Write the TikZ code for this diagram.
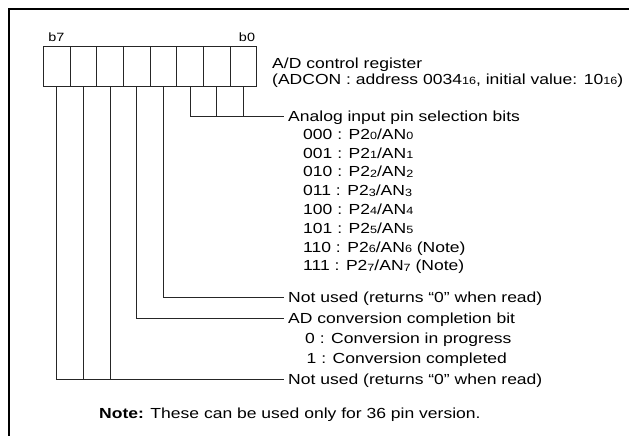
\documentclass[tikz,border=0pt]{standalone}
\usepackage{fontspec}
\setmainfont{Liberation Sans}[FakeStretch=1.2]
\newcommand{\lo}[1]{\raisebox{-0.5pt}{\fontsize{10.5}{10.5}\selectfont #1}}
\begin{document}
\begin{tikzpicture}[x=1pt,y=-1pt,
  cell/.style={draw=black!85,line width=0.9pt,minimum width=26.67pt,minimum height=40pt,inner sep=0pt},
  txt/.style={anchor=west,inner ysep=0pt,inner xsep=0pt,text height=10.4pt,text depth=0pt,font=\fontsize{14.6}{14.6}\selectfont},
  lbl/.style={txt,inner xsep=4pt},
  bitlbl/.style={inner sep=0pt,font=\fontsize{12}{12}\selectfont},
  conn/.style={draw=black!85,line width=0.9pt}]
\useasboundingbox (0,0) rectangle (629,436);
% frame
\draw[line width=2pt] (9,436) -- (9,9) -- (629,9);
% register cells (c0 = b0 on the right)
\foreach \i in {0,...,7}{
  \node[cell] (c\i) at ({256.7-26.67*(\i+0.5)},66) {};
}
\node[bitlbl] (b7) at (56.5,37.5) {b7};
\node[bitlbl] (b0) at (247,37.5) {b0};
% register title
\node[txt] (title1) at (272,63) {A/D control register};
\node[txt] (title2) at (272,79) {(ADCON : address 0034\lo{16}, initial value: 10\lo{16})};
% analog input selection
\node[lbl] (sel) at (284,116) {Analog input pin selection bits};
\node[txt] (r0) at (303,134.0) {000 : P2\lo{0}/AN\lo{0}};
\node[txt] (r1) at (303,152.8) {001 : P2\lo{1}/AN\lo{1}};
\node[txt] (r2) at (303,171.6) {010 : P2\lo{2}/AN\lo{2}};
\node[txt] (r3) at (303,190.4) {011 : P2\lo{3}/AN\lo{3}};
\node[txt] (r4) at (303,209.2) {100 : P2\lo{4}/AN\lo{4}};
\node[txt] (r5) at (303,228.0) {101 : P2\lo{5}/AN\lo{5}};
\node[txt] (r6) at (303,246.8) {110 : P2\lo{6}/AN\lo{6} (Note)};
\node[txt] (r7) at (303,265.6) {111 : P2\lo{7}/AN\lo{7} (Note)};
% other bits
\node[lbl] (nu1) at (284,297) {Not used (returns “0” when read)};
\node[lbl] (adc) at (284,318.3) {AD conversion completion bit};
\node[txt] (adc0) at (305,338) {0 : Conversion in progress};
\node[txt] (adc1) at (306.5,358) {1 : Conversion completed};
\node[lbl] (nu2) at (284,379) {Not used (returns “0” when read)};
% note
\node[txt] (note) at (99,413) {\textbf{Note:} These can be used only for 36 pin version.};
% connectors
\draw[conn] (c2.south) |- (sel.west);
\draw[conn] (c1.south) -- (c1.south |- sel.west);
\draw[conn] (c0.south) -- (c0.south |- sel.west);
\draw[conn] (c3.south) |- (nu1.west);
\draw[conn] (c4.south) |- (adc.west);
\draw[conn] (c7.south) |- (nu2.west);
\draw[conn] (c6.south) -- (c6.south |- nu2.west);
\draw[conn] (c5.south) -- (c5.south |- nu2.west);
\end{tikzpicture}
\end{document}
